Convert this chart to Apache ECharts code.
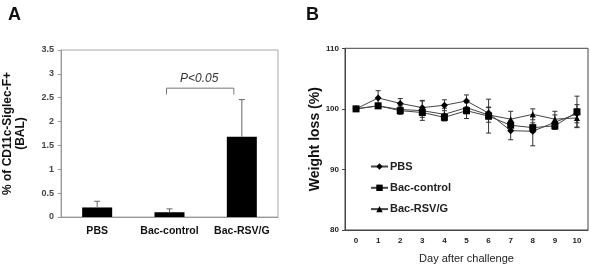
<!DOCTYPE html>
<html>
<head>
<meta charset="utf-8">
<script src="https://cdn.jsdelivr.net/npm/echarts@6/dist/echarts.min.js"></script>
<style>
  html, body { margin: 0; padding: 0; background: #fff; }
  #chart { width: 591px; height: 269px; }
</style>
</head>
<body>
<div id="chart"></div>
<script>
// panel A: % of CD11c-Siglec-F+ cells in BAL
var catsA = ['PBS', 'Bac-control', 'Bac-RSV/G'];
var meanA = [0.2, 0.1, 1.68];
var errA = [0.13, 0.07, 0.78];
var ticksA = [0, 3.5, 0.5];          // min, max, interval
var sigPair = [1, 2];
var sigTop = 2.70;
var sigFoot = 2.57;
var sigText = 'P<0.05';

// panel B: weight loss after challenge
var days = ['0', '1', '2', '3', '4', '5', '6', '7', '8', '9', '10'];
var pbs     = [100, 101.8, 100.9, 100.2, 100.6, 101.3, 99.3, 96.4, 96.3, 97.8, 99.2];
var pbsErr  = [0, 1.2, 0.8, 1.2, 0.9, 1.0, 1.0, 1.5, 2.4, 1.2, 1.5];
var ctrl    = [100, 100.5, 99.7, 99.4, 98.6, 99.7, 98.8, 97.3, 96.9, 97.2, 99.5];
var ctrlErr = [0, 0.4, 0.6, 0.8, 0.6, 1.3, 2.8, 0.7, 0.8, 0.6, 2.6];
var rsvg    = [100, 100.5, 99.9, 99.7, 99.1, 100.2, 99.0, 98.3, 99.1, 98.3, 98.5];
var rsvgErr = [0, 0.3, 0.6, 1.6, 1.0, 1.0, 1.2, 1.3, 0.9, 1.3, 1.5];
var ticksB = [80, 110, 10];

var FONT = 'Liberation Sans, Arial, sans-serif';

function pack(vals, errs) {
    return vals.map(function (v, i) { return [i, v, errs[i]]; });
}

// error bar, upward only for bars, both sides for lines
function errBar(color, both) {
    return function (params, api) {
        var x = api.value(0), y = api.value(1), e = api.value(2);
        if (!e) return;
        var hi = api.coord([x, y + e]);
        var lo = api.coord([x, both ? y - e : y]);
        var w = both ? 2.5 : 3;
        var st = { stroke: color, lineWidth: 1 };
        var kids = [
            { type: 'line', shape: { x1: hi[0], y1: hi[1], x2: lo[0], y2: lo[1] }, style: st },
            { type: 'line', shape: { x1: hi[0] - w, y1: hi[1], x2: hi[0] + w, y2: hi[1] }, style: st }
        ];
        if (both) {
            kids.push({ type: 'line', shape: { x1: lo[0] - w, y1: lo[1], x2: lo[0] + w, y2: lo[1] }, style: st });
        }
        return { type: 'group', children: kids };
    };
}

var chart = echarts.init(document.getElementById('chart'));

var option = {
    animation: false,
    textStyle: { fontFamily: FONT },
    title: [
        { text: 'A', left: 8, top: 6, padding: 0, textStyle: { fontSize: 18, fontWeight: 'bold', color: '#111', fontFamily: FONT } },
        { text: 'B', left: 306, top: 6, padding: 0, textStyle: { fontSize: 18, fontWeight: 'bold', color: '#111', fontFamily: FONT } }
    ],
    legend: {
        orient: 'vertical',
        left: 365,
        top: 156,
        itemWidth: 17,
        itemHeight: 8,
        itemGap: 10.3,
        textStyle: { fontSize: 11, fontWeight: 'bold', color: '#222', fontFamily: FONT, padding: [0, 0, 0, -3] },
        data: ['PBS', 'Bac-control', 'Bac-RSV/G']
    },
    grid: [
        { left: 55.5, right: 313, top: 50, bottom: 52, show: true, borderColor: '#aaa', borderWidth: 1 },
        { left: 345, right: 3, top: 48.3, bottom: 37, show: true, borderColor: '#444', borderWidth: 1 }
    ],
    xAxis: [
        {
            gridIndex: 0,
            type: 'category',
            data: catsA,
            axisLine: { lineStyle: { color: '#999' } },
            axisTick: { inside: true, length: 3, lineStyle: { color: '#999' } },
            axisLabel: { interval: 0, fontSize: 10.5, fontWeight: 'bold', color: '#111', margin: 9 }
        },
        {
            gridIndex: 1,
            type: 'category',
            data: days,
            axisLine: { lineStyle: { color: '#444' } },
            axisTick: { inside: true, length: 3, lineStyle: { color: '#444' } },
            axisLabel: { interval: 0, fontSize: 8, fontWeight: 'bold', color: '#222', margin: 7 },
            name: 'Day after challenge',
            nameLocation: 'middle',
            nameGap: 23,
            nameTextStyle: { fontSize: 11, color: '#222' }
        }
    ],
    yAxis: [
        {
            gridIndex: 0,
            type: 'value',
            min: ticksA[0], max: ticksA[1], interval: ticksA[2],
            splitLine: { show: false },
            axisLine: { show: true, lineStyle: { color: '#999' } },
            axisTick: { show: true, length: 3, lineStyle: { color: '#999' } },
            axisLabel: { fontSize: 9, fontWeight: 'bold', color: '#444', margin: 7 },
            name: '% of CD11c-Siglec-F+\n(BAL)',
            nameLocation: 'middle',
            nameGap: 34,
            nameTextStyle: { fontSize: 12, fontWeight: 'bold', color: '#111', lineHeight: 13 }
        },
        {
            gridIndex: 1,
            type: 'value',
            min: ticksB[0], max: ticksB[1], interval: ticksB[2],
            splitLine: { show: false },
            axisLine: { show: true, lineStyle: { color: '#444' } },
            axisTick: { show: true, length: 3, lineStyle: { color: '#444' } },
            axisLabel: { fontSize: 8, fontWeight: 'bold', color: '#222', margin: 6 },
            name: 'Weight loss (%)',
            nameLocation: 'middle',
            nameGap: 23,
            nameTextStyle: { fontSize: 14, fontWeight: 'bold', color: '#111' }
        }
    ],
    series: [
        {
            type: 'bar',
            xAxisIndex: 0, yAxisIndex: 0,
            data: meanA,
            barWidth: 30,
            itemStyle: { color: '#000' },
            z: 2
        },
        {
            type: 'custom',
            xAxisIndex: 0, yAxisIndex: 0,
            data: pack(meanA, errA),
            renderItem: errBar('#666', false),
            z: 3
        },
        {
            // significance bracket
            type: 'custom',
            xAxisIndex: 0, yAxisIndex: 0,
            data: [[sigPair[0], sigPair[1], sigTop, sigFoot]],
            renderItem: function (params, api) {
                var a = api.coord([api.value(0), api.value(2)]);
                var b = api.coord([api.value(1), api.value(2)]);
                var foot = api.coord([api.value(0), api.value(3)])[1];
                var x1 = a[0] - 3, x2 = b[0] - 8, y = a[1];
                return {
                    type: 'group',
                    children: [
                        { type: 'polyline', shape: { points: [[x1, foot], [x1, y], [x2, y], [x2, foot]] }, style: { stroke: '#777', fill: null, lineWidth: 1 } },
                        { type: 'text', x: (x1 + x2) / 2 - 1, y: y - 4, style: { text: sigText, font: 'italic 12px ' + FONT, fill: '#333', align: 'center', verticalAlign: 'bottom' } }
                    ]
                };
            }
        },
        { type: 'custom', xAxisIndex: 1, yAxisIndex: 1, data: pack(pbs, pbsErr), renderItem: errBar('#333', true), z: 1 },
        { type: 'custom', xAxisIndex: 1, yAxisIndex: 1, data: pack(ctrl, ctrlErr), renderItem: errBar('#333', true), z: 1 },
        { type: 'custom', xAxisIndex: 1, yAxisIndex: 1, data: pack(rsvg, rsvgErr), renderItem: errBar('#333', true), z: 1 },
        {
            name: 'PBS', type: 'line', xAxisIndex: 1, yAxisIndex: 1,
            data: pbs, symbol: 'diamond', symbolSize: 7,
            lineStyle: { color: '#444', width: 1 }, itemStyle: { color: '#000' }, z: 3
        },
        {
            name: 'Bac-control', type: 'line', xAxisIndex: 1, yAxisIndex: 1,
            data: ctrl, symbol: 'rect', symbolSize: 7,
            lineStyle: { color: '#444', width: 1 }, itemStyle: { color: '#000' }, z: 3
        },
        {
            name: 'Bac-RSV/G', type: 'line', xAxisIndex: 1, yAxisIndex: 1,
            data: rsvg, symbol: 'triangle', symbolSize: 6,
            lineStyle: { color: '#444', width: 1 }, itemStyle: { color: '#000' }, z: 3
        }
    ]
};

chart.setOption(option);
</script>
</body>
</html>
